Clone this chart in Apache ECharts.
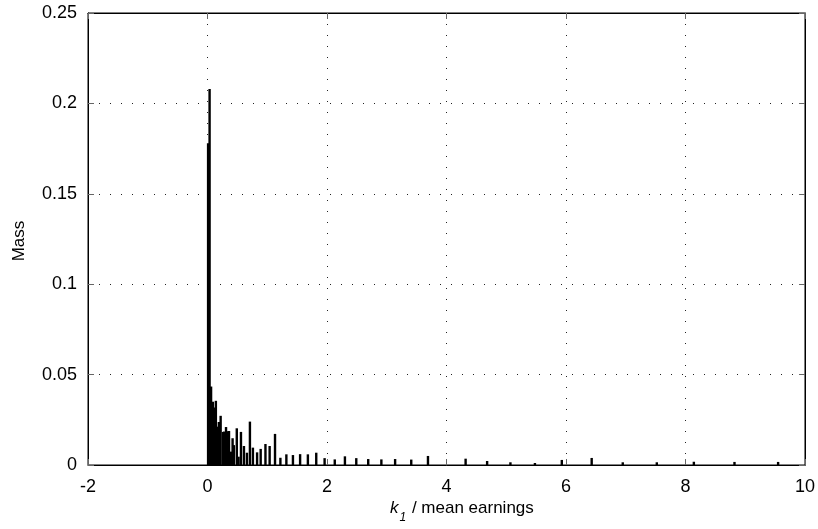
<!DOCTYPE html>
<html>
<head>
<meta charset="utf-8">
<script src="https://cdn.jsdelivr.net/npm/echarts@6/dist/echarts.min.js"></script>
<style>html,body{margin:0;padding:0;background:#fff}#c{width:818px;height:529px}</style>
</head>
<body>
<div id="c"></div>
<script>
// k1 / mean earnings grid points (x) and their mass (y)
const kValues = [0.01, 0.035, 0.06, 0.09, 0.11, 0.14, 0.17, 0.19, 0.22, 0.26, 0.28, 0.31, 0.33, 0.36, 0.39, 0.42, 0.44, 0.49, 0.52, 0.56, 0.61, 0.66, 0.71, 0.76, 0.83, 0.89, 0.97, 1.04, 1.13, 1.22, 1.32, 1.43, 1.55, 1.68, 1.82, 1.96, 2.13, 2.30, 2.49, 2.69, 2.91, 3.14, 3.41, 3.69, 4.32, 4.68, 5.07, 5.48, 5.93, 6.43, 6.95, 7.52, 8.14, 8.82, 9.55];
const massValues = [0.178, 0.208, 0.0434, 0.035, 0.0318, 0.0355, 0.0212, 0.0238, 0.0272, 0.0183, 0.0185, 0.021, 0.0187, 0.0188, 0.0074, 0.0148, 0.011, 0.0203, 0.0046, 0.0183, 0.0105, 0.0068, 0.024, 0.0096, 0.007, 0.0089, 0.0116, 0.0105, 0.0172, 0.004, 0.0059, 0.0055, 0.006, 0.0059, 0.0068, 0.0038, 0.0031, 0.0048, 0.0038, 0.0033, 0.0031, 0.0033, 0.003, 0.005, 0.0035, 0.0022, 0.0015, 0.0011, 0.0028, 0.0039, 0.0015, 0.0015, 0.0018, 0.0017, 0.0017];
const xTicks = [-2, 10, 2];     // min, max, interval
const yTicks = [0, 0.25, 0.05]; // min, max, interval
const xName = 'mean earnings';
const yName = 'Mass';

const chart = echarts.init(document.getElementById('c'), null, {renderer: 'canvas'});
const FONT = '"Liberation Sans", Arial, Helvetica, sans-serif';
const grid = {left: 88, right: 12, top: 13, bottom: 64, show: true, borderColor: '#000', borderWidth: 1, backgroundColor: 'transparent'};
const split = {show: true, lineStyle: {color: '#222', width: 1, type: [1, 10]}};
const tick = {show: true, inside: true, length: 6, lineStyle: {color: '#666'}};

chart.setOption({
  animation: false,
  backgroundColor: '#fff',
  grid: grid,
  xAxis: [
    {type: 'value', min: xTicks[0], max: xTicks[1], interval: xTicks[2], position: 'bottom',
     axisLine: {show: true, onZero: false, lineStyle: {color: '#000'}}, axisTick: tick,
     axisLabel: {color: '#000', fontSize: 18, fontFamily: FONT, margin: 13}, splitLine: split},
    {type: 'value', min: xTicks[0], max: xTicks[1], interval: xTicks[2], position: 'top',
     axisLine: {show: true, onZero: false, lineStyle: {color: '#000'}}, axisTick: tick,
     axisLabel: {show: false}, splitLine: {show: false}}
  ],
  yAxis: [
    {type: 'value', min: yTicks[0], max: yTicks[1], interval: yTicks[2], position: 'left',
     axisLine: {show: true, onZero: false, lineStyle: {color: '#000'}}, axisTick: tick,
     axisLabel: {color: '#000', fontSize: 18, fontFamily: FONT, margin: 11,
                 formatter: v => String(+v.toFixed(2))}, splitLine: split},
    {type: 'value', min: yTicks[0], max: yTicks[1], interval: yTicks[2], position: 'right',
     axisLine: {show: true, onZero: false, lineStyle: {color: '#000'}}, axisTick: tick,
     axisLabel: {show: false}, splitLine: {show: false}}
  ],
  series: [{
    type: 'bar', xAxisIndex: 0, yAxisIndex: 0,
    data: kValues.map((k, i) => [k, massValues[i]]),
    barWidth: 2.4,
    itemStyle: {color: '#000'}
  }],
  graphic: [
    {type: 'text', left: 390, top: 498, z: 10,
     style: {
       text: '{k|k}{s|1}{t| / ' + xName + '}',
       rich: {
         k: {fontSize: 17, fontStyle: 'italic', fontFamily: FONT, fill: '#000', verticalAlign: 'top', lineHeight: 24},
         s: {fontSize: 12, fontStyle: 'italic', fontFamily: FONT, fill: '#000', verticalAlign: 'bottom', lineHeight: 24, padding: [14, 1, 0, 1]},
         t: {fontSize: 17, fontFamily: FONT, fill: '#000', verticalAlign: 'top', lineHeight: 24}
       }
     }},
    {type: 'text', x: 11, y: 241, rotation: Math.PI / 2, z: 10,
     style: {text: yName, fontSize: 17, fontFamily: FONT, fill: '#000', align: 'center', verticalAlign: 'top'}}
  ]
});
</script>
</body>
</html>
